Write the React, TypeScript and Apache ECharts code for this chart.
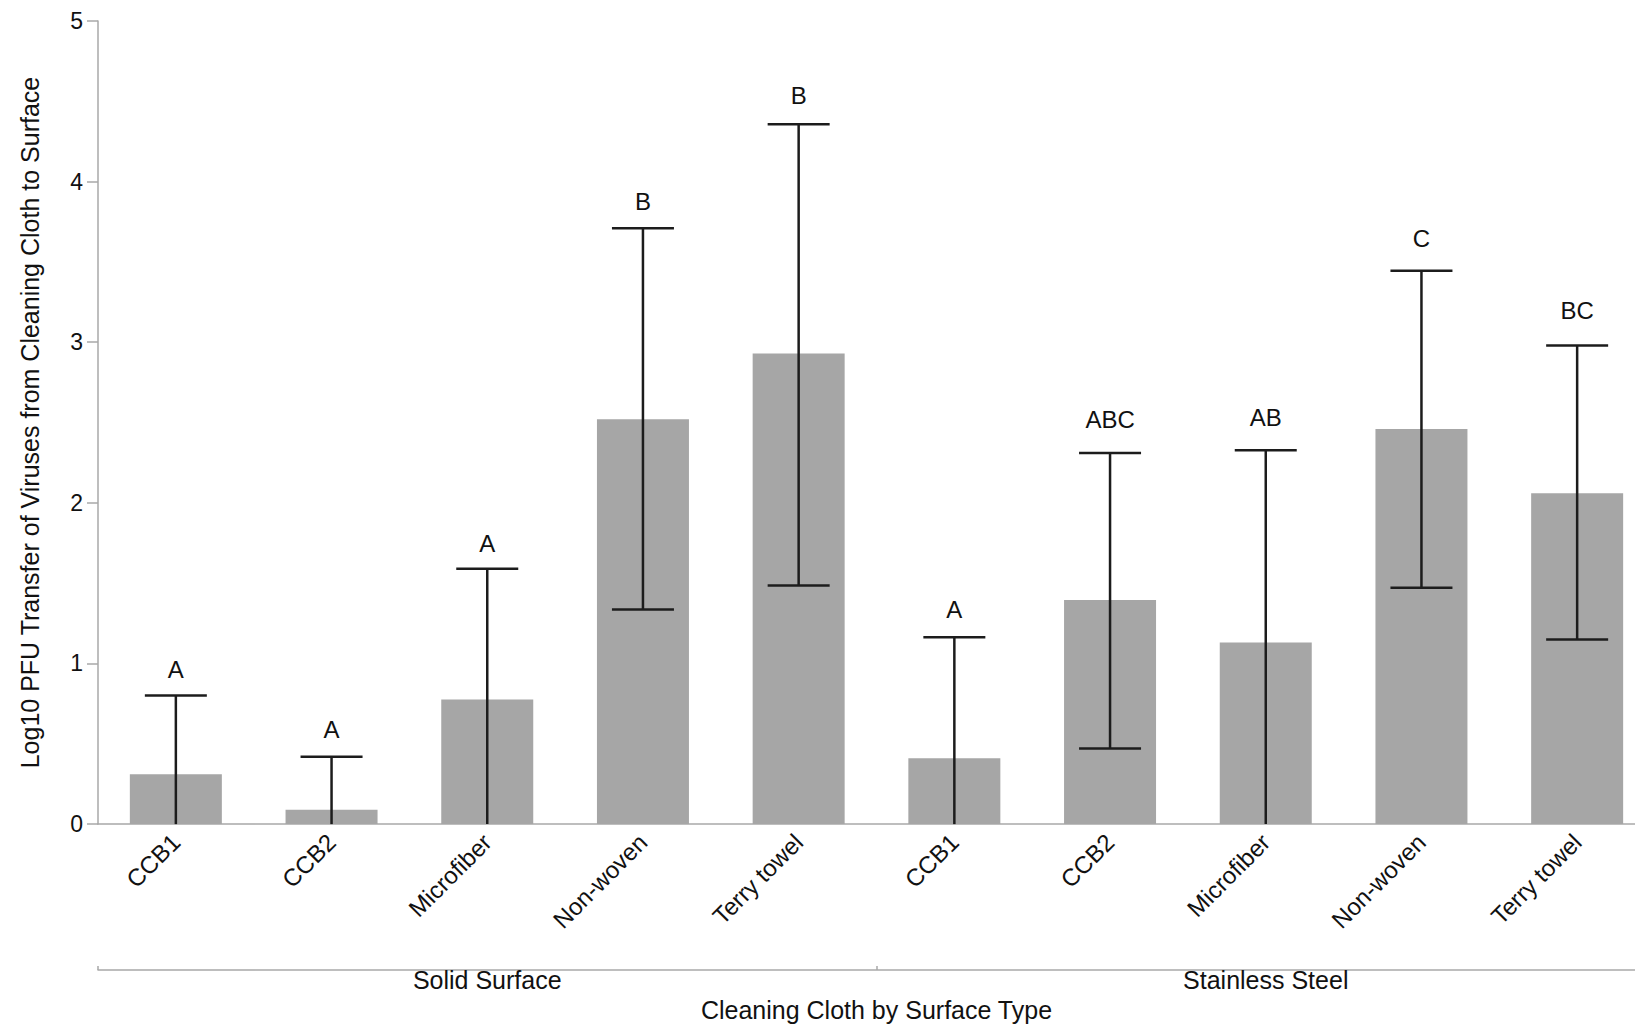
import React, { useEffect, useRef } from "react";
import * as echarts from "echarts";

const categories = [
  "CCB1", "CCB2", "Microfiber", "Non-woven", "Terry towel",
  "CCB1", "CCB2", "Microfiber", "Non-woven", "Terry towel",
];
const groups = ["Solid Surface", "Stainless Steel"];
const meanValues = [0.31, 0.09, 0.775, 2.52, 2.93, 0.41, 1.395, 1.13, 2.46, 2.06];
const upperValues = [0.8, 0.42, 1.59, 3.71, 4.357, 1.163, 2.31, 2.327, 3.445, 2.98];
const lowerValues = [0, 0, 0, 1.336, 1.485, 0, 0.47, 0, 1.472, 1.15];
const letters = ["A", "A", "A", "B", "B", "A", "ABC", "AB", "C", "BC"];
const letterValues = [0.962, 0.586, 1.744, 3.874, 4.538, 1.336, 2.52, 2.533, 3.646, 3.199];
const yTicks = [0, 1, 2, 3, 4, 5];

const FONT = "'Liberation Sans', Arial, Helvetica, sans-serif";
const AXIS_GRAY = "#a8a8a8";

export default function App() {
  const ref = useRef<HTMLDivElement>(null);

  useEffect(() => {
    if (!ref.current) return;
    const chart = echarts.init(ref.current, null, { renderer: "svg" });
    const errData = categories.map((_, i) => [i, upperValues[i], lowerValues[i], letterValues[i]]);

    chart.setOption({
      animation: false,
      backgroundColor: "#ffffff",
      textStyle: { fontFamily: FONT, color: "#111" },
      grid: { left: 98, right: 0, top: 21, bottom: 199, containLabel: false },
      xAxis: [
        {
          type: "category",
          data: categories,
          gridIndex: 0,
          boundaryGap: true,
          axisLine: { show: true, lineStyle: { color: AXIS_GRAY, width: 1.5 } },
          axisTick: { show: false },
          axisLabel: {
            rotate: 45,
            interval: 0,
            margin: 14,
            fontSize: 24,
            fontFamily: FONT,
            color: "#111",
          },
        },
        {
          type: "category",
          data: groups,
          gridIndex: 0,
          position: "bottom",
          offset: 146,
          boundaryGap: true,
          axisLine: { show: true, lineStyle: { color: AXIS_GRAY, width: 1.5 } },
          axisTick: { show: true, inside: true, length: 4, lineStyle: { color: AXIS_GRAY, width: 1.5 } },
          axisLabel: {
            interval: 0,
            margin: -3,
            fontSize: 25,
            fontFamily: FONT,
            color: "#111",
          },
          name: "Cleaning Cloth by Surface Type",
          nameLocation: "middle",
          nameGap: 23,
          nameTextStyle: { fontSize: 25, fontFamily: FONT, color: "#111" },
        },
      ],
      yAxis: {
        type: "value",
        min: 0,
        max: 5,
        interval: 1,
        axisLine: { show: true, lineStyle: { color: AXIS_GRAY, width: 1.5 } },
        axisTick: { show: true, length: 11, lineStyle: { color: AXIS_GRAY, width: 1.5 } },
        splitLine: { show: false },
        axisLabel: {
          margin: 15,
          fontSize: 23,
          fontFamily: FONT,
          color: "#111",
          formatter: (v: number) => (yTicks.includes(v) ? String(v) : ""),
        },
        name: "Log10 PFU Transfer of Viruses from Cleaning Cloth to Surface",
        nameLocation: "middle",
        nameRotate: 90,
        nameGap: 56,
        nameTextStyle: { fontSize: 25, fontFamily: FONT, color: "#111" },
      },
      series: [
        {
          type: "bar",
          xAxisIndex: 0,
          data: meanValues,
          barWidth: 92,
          itemStyle: { color: "#a6a6a6" },
          silent: true,
        },
        {
          type: "custom",
          xAxisIndex: 0,
          data: errData,
          silent: true,
          z: 5,
          renderItem: (params: any, api: any) => {
            const idx = api.value(0);
            const hiV = api.value(1);
            const loV = api.value(2);
            const hi = api.coord([idx, hiV]);
            const lo = api.coord([idx, loV]);
            const lt = api.coord([idx, api.value(3)]);
            const half = 31;
            const stroke = { stroke: "#1c1c1c", lineWidth: 2.5 };
            const children: any[] = [
              { type: "line", shape: { x1: hi[0], y1: hi[1], x2: lo[0], y2: lo[1] }, style: stroke },
              { type: "line", shape: { x1: hi[0] - half, y1: hi[1], x2: hi[0] + half, y2: hi[1] }, style: stroke },
            ];
            if (loV > 0) {
              children.push({
                type: "line",
                shape: { x1: lo[0] - half, y1: lo[1], x2: lo[0] + half, y2: lo[1] },
                style: stroke,
              });
            }
            children.push({
              type: "text",
              x: lt[0],
              y: lt[1],
              style: {
                text: letters[idx],
                fontSize: 24,
                fontFamily: FONT,
                fill: "#111",
                align: "center",
                verticalAlign: "middle",
              },
            });
            return { type: "group", children };
          },
        },
      ],
    });
    return () => chart.dispose();
  }, []);

  return (
    <div
      style={{ position: "fixed", left: 0, top: 0, width: 1635, height: 1027, overflow: "hidden", background: "#fff" }}
    >
      <div ref={ref} style={{ width: 1655, height: 1027 }} />
    </div>
  );
}
